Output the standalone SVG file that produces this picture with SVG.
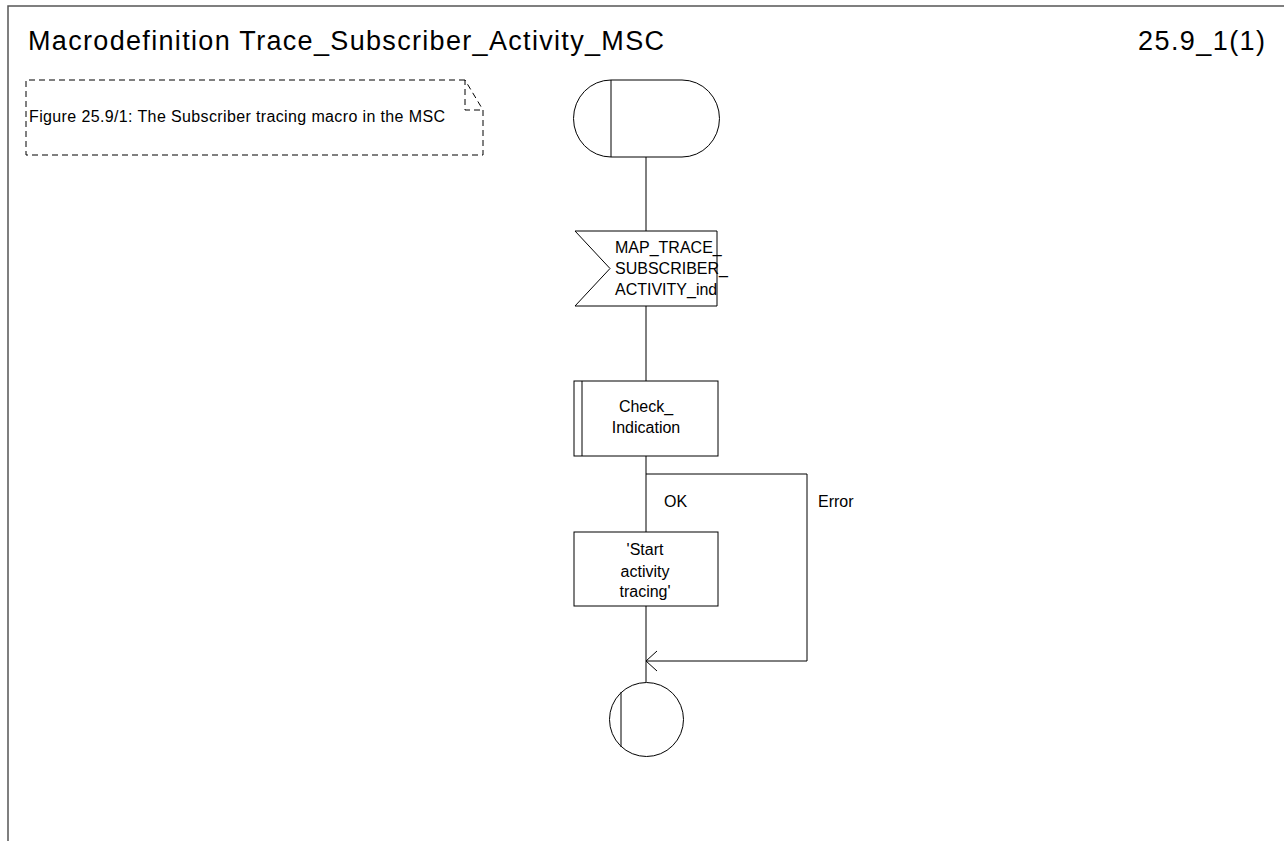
<svg xmlns="http://www.w3.org/2000/svg" width="1284" height="841" viewBox="0 0 1284 841">
<style>
.s{fill:none;stroke:#000;stroke-width:1}
.t{font-family:"Liberation Sans",Arial,sans-serif;font-size:16px;fill:#000}
.c{text-anchor:middle}
.d{fill:none;stroke:#000;stroke-width:1;stroke-dasharray:6,4}
.h{font-family:"Liberation Sans",Arial,sans-serif;font-size:27px;fill:#000}
</style>
<rect width="1284" height="841" fill="#fff"/>
<g id="frame">
<polyline points="8,841 8,6 1284,6" fill="none" stroke="#555" stroke-width="1.5"/>
<text class="h" x="28" y="50" textLength="636" lengthAdjust="spacing">Macrodefinition Trace_Subscriber_Activity_MSC</text>
<text class="h" x="1138" y="50" textLength="127" lengthAdjust="spacing">25.9_1(1)</text>
</g>
<g id="comment">
<path class="d" d="M465,80 H26 V155 H483 V110 L465,80 V110 H483"/>
<text class="t" x="29" y="122" font-size="14" textLength="416" lengthAdjust="spacing">Figure 25.9/1: The Subscriber tracing macro in the MSC</text>
</g>
<g id="connectors">
<line class="s" x1="646" y1="157" x2="646" y2="231"/>
<line class="s" x1="646" y1="306" x2="646" y2="381"/>
<line class="s" x1="646" y1="456" x2="646" y2="532"/>
<line class="s" x1="646" y1="606" x2="646" y2="682"/>
<polyline class="s" points="646,474 807,474 807,661 646,661"/>
<polyline class="s" points="657,651 646,661 657,671"/>
<text class="t" x="664" y="507">OK</text>
<text class="t" x="818" y="507">Error</text>
</g>
<g id="start">
<path class="s" d="M611,80 H682 A37.5,38.5 0 0 1 682,157 H611 A37.5,38.5 0 0 1 611,80 Z"/>
<line class="s" x1="611" y1="80" x2="611" y2="157"/>
</g>
<g id="input">
<path class="s" d="M575,231 H717 V306 H575 L610,268.5 Z"/>
<text class="t" x="615" y="253">MAP_TRACE_</text>
<text class="t" x="615" y="274">SUBSCRIBER_</text>
<text class="t" x="615" y="295">ACTIVITY_ind</text>
</g>
<g id="check">
<rect class="s" x="574" y="381" width="144" height="75"/>
<line class="s" x1="582" y1="381" x2="582" y2="456"/>
<text class="t c" x="646" y="412">Check_</text>
<text class="t c" x="646" y="433">Indication</text>
</g>
<g id="task">
<rect class="s" x="574" y="532" width="144" height="74"/>
<text class="t c" x="645" y="555">'Start</text>
<text class="t c" x="645" y="577">activity</text>
<text class="t c" x="645" y="597">tracing'</text>
</g>
<g id="end">
<circle class="s" cx="646.5" cy="719.5" r="37"/>
<line class="s" x1="621" y1="692" x2="621" y2="747"/>
</g>
</svg>
